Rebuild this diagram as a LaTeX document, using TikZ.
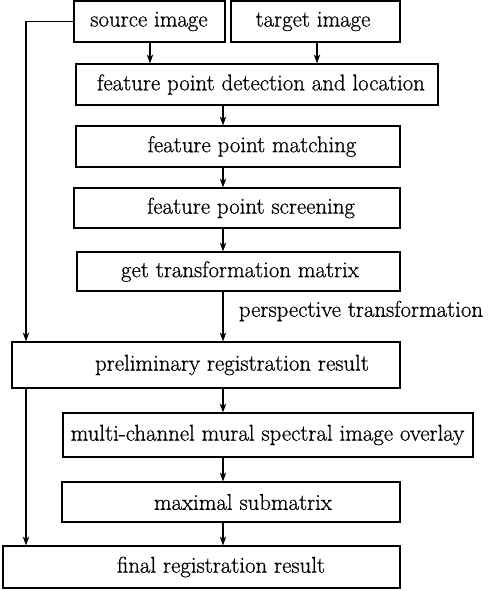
\documentclass[tikz,border=0pt]{standalone}
\usepackage{fontspec}
\setmainfont{Latin Modern Roman}[FakeBold=0.7]
\usetikzlibrary{arrows.meta}
\begin{document}
\begin{tikzpicture}[x=1pt,y=-1pt,
  box/.style={draw,line width=1.2pt,rectangle,inner sep=0pt},
  txt/.style={font=\fontsize{22.8}{26}\selectfont,inner sep=0pt,anchor=center},
  arr/.style={line width=1.2pt,-{Stealth[length=9pt,width=6.5pt]}},
  ln/.style={line width=1.2pt}]
\useasboundingbox (0,0) rectangle (487,591);
% boxes
\node[box,minimum width=151pt,minimum height=41pt] (src) at (149.5,21.5) {};
\node[box,minimum width=169pt,minimum height=41pt] (tgt) at (315.5,21.5) {};
\node[box,minimum width=362pt,minimum height=41pt] (det) at (257,84.5) {};
\node[box,minimum width=324pt,minimum height=41pt] (mat) at (238,146.5) {};
\node[box,minimum width=326pt,minimum height=40pt] (scr) at (237,208) {};
\node[box,minimum width=323pt,minimum height=39pt] (gtm) at (238.5,271.5) {};
\node[box,minimum width=388pt,minimum height=46pt] (pre) at (206,365) {};
\node[box,minimum width=410pt,minimum height=44pt] (mul) at (268,435) {};
\node[box,minimum width=338pt,minimum height=40pt] (max) at (231,502) {};
\node[box,minimum width=397pt,minimum height=42pt] (fin) at (201.5,567) {};
% texts
\node[txt] (tsrc) at (149,21.5) {source image};
\node[txt] (ttgt) at (313,21.5) {target image};
\node[txt] (tdet) at (261,84.5) {feature point detection and location};
\node[txt] (tmat) at (252,146.5) {feature point matching};
\node[txt] (tscr) at (251,208) {feature point screening};
\node[txt] (tgtm) at (240,271.5) {get transformation matrix};
\node[txt] (tper) at (361,311) {perspective transformation};
\node[txt] (tpre) at (232,365) {preliminary registration result};
\node[txt] (tmul) at (267.5,435) {multi-channel mural spectral image overlay};
\node[txt] (tmax) at (243,502) {maximal submatrix};
\node[txt] (tfin) at (221,567) {final registration result};
% arrows
\draw[arr] (src.south -| 150,0) -- (det.north -| 150,0);
\draw[arr] (tgt.south -| 317,0) -- (det.north -| 317,0);
\draw[arr] (det.south -| 223,0) -- (mat.north -| 223,0);
\draw[arr] (mat.south -| 223,0) -- (scr.north -| 223,0);
\draw[arr] (scr.south -| 223,0) -- (gtm.north -| 223,0);
\draw[arr] (gtm.south -| 223,0) -- (pre.north -| 223,0);
\draw[arr] (pre.south -| 223,0) -- (mul.north -| 223,0);
\draw[arr] (mul.south -| 223,0) -- (max.north -| 223,0);
\draw[arr] (max.south -| 223,0) -- (fin.north -| 223,0);
\draw[arr] (src.west) -- (26,0 |- src.west) -- (pre.north -| 26,0);
\draw[arr] (pre.south -| 26,0) -- (fin.north -| 26,0);
\end{tikzpicture}
\end{document}
